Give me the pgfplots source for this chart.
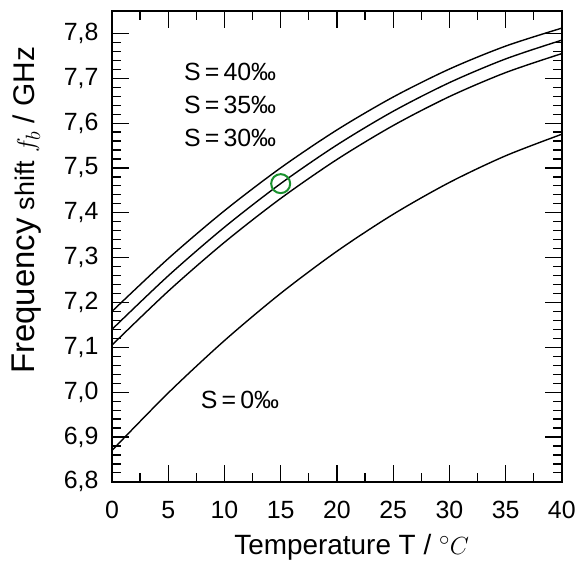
\documentclass[border=0pt]{standalone}
\usepackage{fontspec}
\setmainfont{Liberation Sans}
\usepackage{pgfplots}
\pgfplotsset{compat=1.18}
\usetikzlibrary{calc}
\definecolor{circgreen}{RGB}{25,145,45}

\begin{document}
\begin{tikzpicture}
\begin{axis}[
  scale only axis, width=450bp, height=471bp,
  xmin=0, xmax=40, ymin=6.8, ymax=7.85,
  xtick={0,5,10,15,20,25,30,35,40}, minor x tick num=1,
  ytick={6.8,6.9,7.0,7.1,7.2,7.3,7.4,7.5,7.6,7.7,7.8}, minor y tick num=4,
  major tick length=17bp, minor tick length=9bp,
  tick style={line width=1.2bp, black},
  axis line style={line width=1.5bp},
  tick align=inside,
  xtick pos=both, ytick pos=both,
  xticklabel pos=bottom, yticklabel pos=left,
  /pgf/number format/assume math mode=true,
  yticklabel style={/pgf/number format/fixed, /pgf/number format/fixed zerofill,
    /pgf/number format/precision=1, /pgf/number format/use comma,
    font=\fontsize{25}{27}\selectfont, anchor=east, xshift=-10bp},
  xticklabel style={font=\fontsize{25}{27}\selectfont, anchor=north, yshift=-16bp},
  xlabel={Temperature T / $^{\circ}C$},
  xlabel style={font=\fontsize{28}{32}\selectfont, at={(axis description cs:0.533,-0.140)}, anchor=center},
  ylabel={{\fontsize{33}{36}\selectfont Frequency} {\fontsize{27}{30}\selectfont shift} $f_b$ / GHz},
  ylabel style={font=\fontsize{30}{34}\selectfont, at={(axis description cs:-0.190,0.577)}, anchor=center},
  clip=false,
]
% S = 40 permille
\addplot[black, line width=1.4bp, smooth] coordinates {
  (0,7.180) (5,7.2978) (10,7.4046) (15,7.5002) (20,7.5847)
  (25,7.6581) (30,7.7205) (35,7.7717) (40,7.8118)};
% S = 35 permille
\addplot[black, line width=1.4bp, smooth] coordinates {
  (0,7.140) (5,7.2594) (10,7.3678) (15,7.4651) (20,7.5512)
  (25,7.6263) (30,7.6902) (35,7.7431) (40,7.785)};
% S = 30 permille
\addplot[black, line width=1.4bp, smooth] coordinates {
  (0,7.105) (5,7.2251) (10,7.3341) (15,7.432) (20,7.5188)
  (25,7.5945) (30,7.6591) (35,7.7126) (40,7.755)};
% S = 0 permille
\addplot[black, line width=1.4bp, smooth] coordinates {
  (0,6.870) (5,6.9982) (10,7.115) (15,7.2203) (20,7.3142)
  (25,7.3966) (30,7.4676) (35,7.5271) (40,7.5752)};
% marked point
\addplot[only marks, mark=o, mark size=9.5bp, circgreen, line width=2bp,
  mark options={draw=circgreen, fill=none}] coordinates {(15,7.465)};

\node[anchor=west, font=\fontsize{25}{28}\selectfont] at (axis cs:6.1,7.715) {S\,=\,40‰};
\node[anchor=west, font=\fontsize{25}{28}\selectfont] at (axis cs:6.1,7.641) {S\,=\,35‰};
\node[anchor=west, font=\fontsize{25}{28}\selectfont] at (axis cs:6.1,7.568) {S\,=\,30‰};
\node[anchor=west, font=\fontsize{25}{28}\selectfont] at (axis cs:7.6,6.983) {S\,=\,0‰};
\end{axis}
\path ($(current axis.south west)+(-112bp,-88bp)$) rectangle ($(current axis.north east)+(17bp,11bp)$);
\end{tikzpicture}
\end{document}
